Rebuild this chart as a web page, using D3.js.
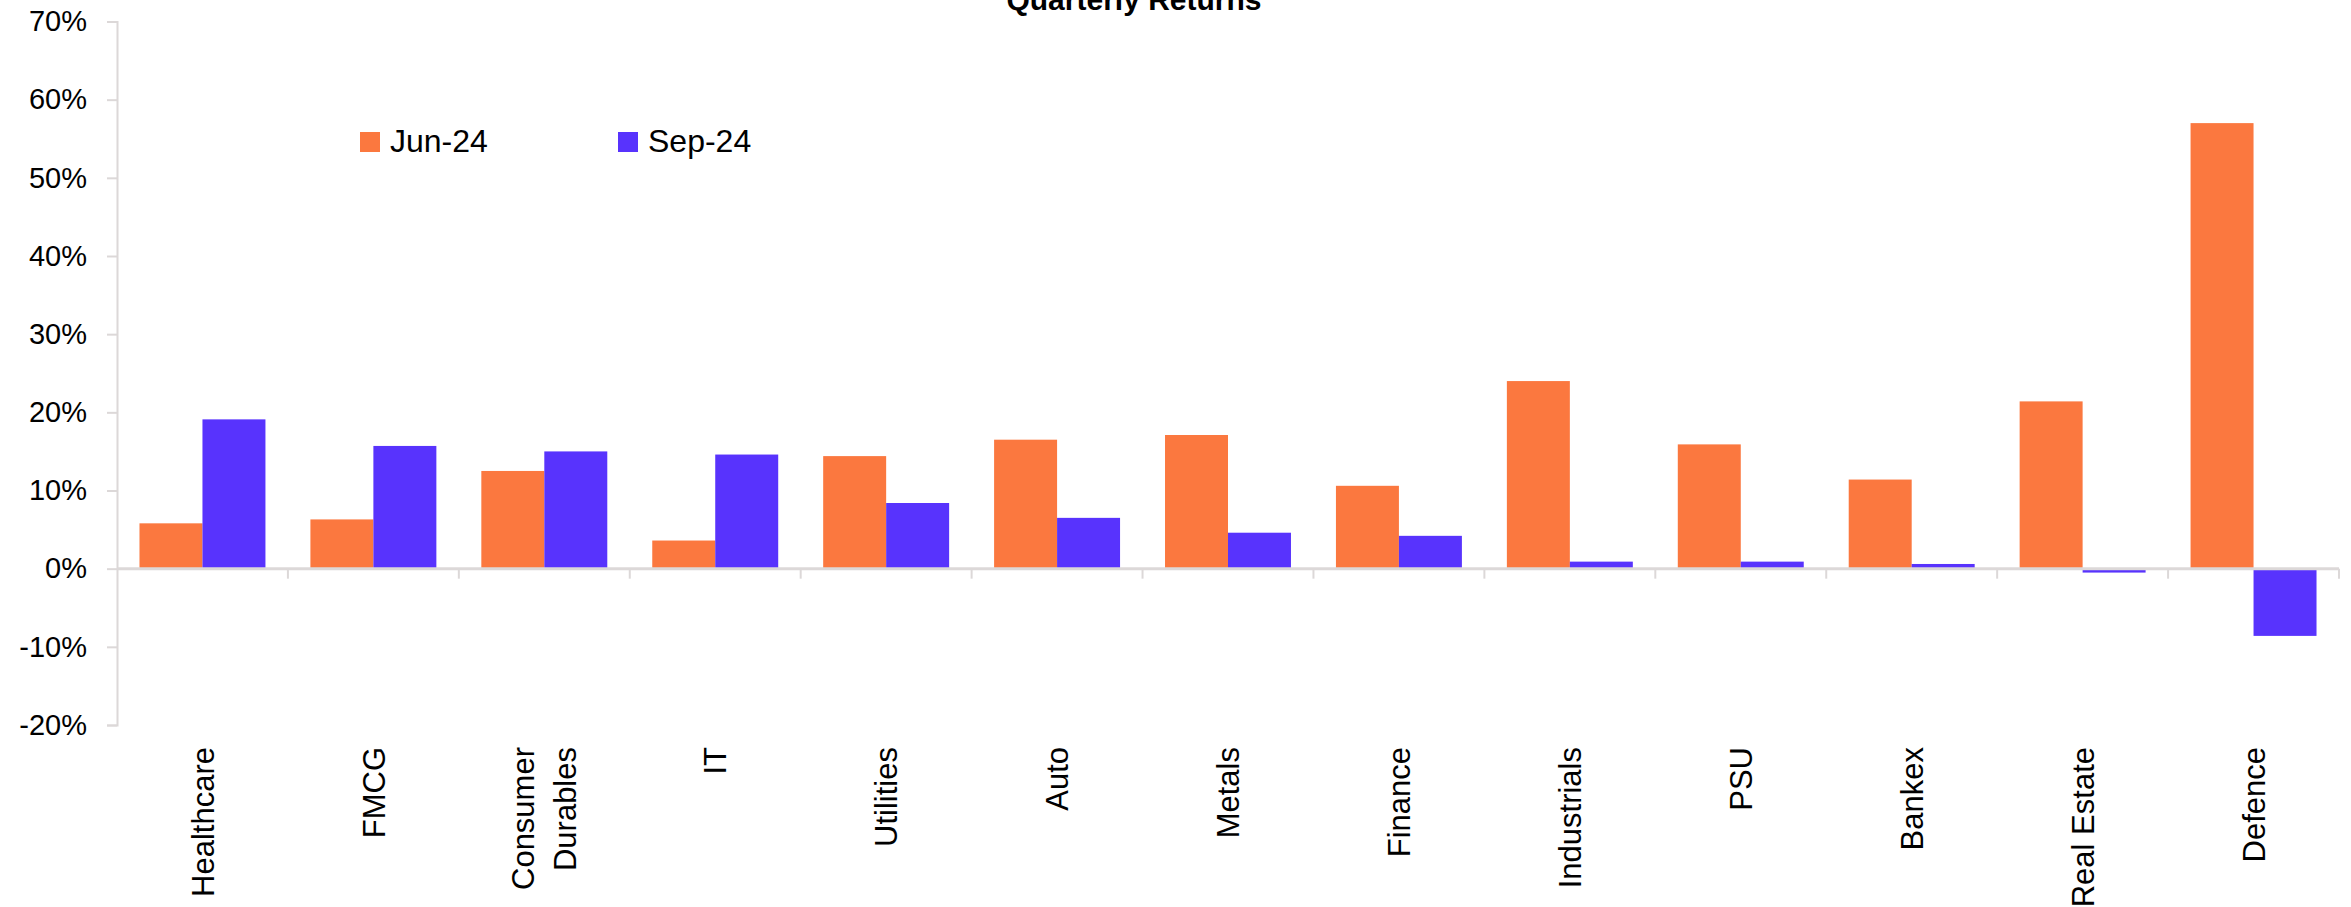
<!DOCTYPE html>
<html>
<head>
<meta charset="utf-8">
<script src="https://cdn.jsdelivr.net/npm/d3@7"></script>
<style>
  html, body { margin: 0; padding: 0; background: #ffffff; }
  svg { display: block; }
</style>
</head>
<body>
<svg id="chart" width="2351" height="907"></svg>
<script>
// Sector quarterly returns, in percent
const categories = ["Healthcare", "FMCG", "Consumer Durables", "IT", "Utilities", "Auto", "Metals",
  "Finance", "Industrials", "PSU", "Bankex", "Real Estate", "Defence"];
const seriesNames = ["Jun-24", "Sep-24"];
const jun24 = [5.8, 6.3, 12.5, 3.6, 14.4, 16.5, 17.1, 10.6, 24.0, 15.9, 11.4, 21.4, 57.0];
const sep24 = [19.1, 15.7, 15.0, 14.6, 8.4, 6.5, 4.6, 4.2, 0.9, 0.9, 0.6, -0.5, -8.6];
const yTicks = [-20, -10, 0, 10, 20, 30, 40, 50, 60, 70];
const colors = ["#FB783F", "#5833FD"];
const title = "Quarterly Returns";

const svg = d3.select("#chart");
const plot = { left: 117, right: 2339, top: 21.5, bottom: 725 };

const x = d3.scaleBand().domain(categories).range([plot.left, plot.right]).padding(0);
const inner = d3.scaleBand().domain(seriesNames).range([0, x.bandwidth()])
  .paddingInner(0).paddingOuter(0.357);
const y = d3.scaleLinear().domain([-20, 70]).range([plot.bottom, plot.top]);

const series = [jun24, sep24];
const axisColor = "#DCD8D8";
const font = "Liberation Sans, Arial, sans-serif";

// Title
svg.append("text")
  .attr("x", 1134).attr("y", 10)
  .attr("text-anchor", "middle")
  .attr("font-family", font)
  .attr("font-weight", "bold")
  .attr("font-size", 30)
  .attr("fill", "#000")
  .text(title);

// Bars
const groups = svg.append("g").selectAll("g")
  .data(categories)
  .join("g")
  .attr("transform", d => `translate(${x(d)},0)`);

groups.selectAll("rect")
  .data((d, i) => seriesNames.map((s, k) => ({ s, k, v: series[k][i] })))
  .join("rect")
  .attr("x", d => inner(d.s))
  .attr("width", inner.bandwidth())
  .attr("y", d => y(Math.max(0, d.v)))
  .attr("height", d => Math.abs(y(d.v) - y(0)))
  .attr("fill", d => colors[d.k]);

// Y axis
const yAxis = d3.axisLeft(y).tickValues(yTicks).tickSize(10).tickPadding(20)
  .tickFormat(d => d + "%");
const gy = svg.append("g").attr("transform", `translate(${plot.left},0)`).call(yAxis);
gy.select(".domain").attr("stroke", axisColor).attr("stroke-width", 2);
gy.selectAll(".tick line").attr("stroke", axisColor).attr("stroke-width", 2);
gy.selectAll(".tick text")
  .attr("font-family", font)
  .attr("font-size", 29)
  .attr("fill", "#000");

// X axis along zero line, ticks at category boundaries
const gx = svg.append("g");
gx.append("line")
  .attr("x1", plot.left).attr("x2", plot.right)
  .attr("y1", y(0)).attr("y2", y(0))
  .attr("stroke", axisColor).attr("stroke-width", 3);
const boundaries = categories.map(c => x(c) + x.bandwidth());
gx.selectAll("line.tick")
  .data(boundaries)
  .join("line")
  .attr("class", "tick")
  .attr("x1", d => d).attr("x2", d => d)
  .attr("y1", y(0)).attr("y2", y(0) + 10)
  .attr("stroke", axisColor).attr("stroke-width", 2);

// Category labels, rotated
const labelTop = 747;
const labels = svg.append("g").selectAll("text")
  .data(categories)
  .join("text")
  .attr("transform", d => `translate(${x(d) + x.bandwidth() / 2},${labelTop}) rotate(-90)`)
  .attr("text-anchor", "end")
  .attr("font-family", font)
  .attr("font-size", 31)
  .attr("fill", "#000");

labels.each(function (d) {
  const words = d === "Consumer Durables" ? ["Consumer", "Durables"] : [d];
  const t = d3.select(this);
  const lh = 42;
  words.forEach((w, i) => {
    t.append("tspan")
      .attr("x", 0)
      .attr("y", (i - (words.length - 1) / 2) * lh)
      .attr("dy", "0.36em")
      .text(w);
  });
});

// Legend
const legendItems = [
  { name: seriesNames[0], color: colors[0], x: 360 },
  { name: seriesNames[1], color: colors[1], x: 618 }
];
const lg = svg.append("g").selectAll("g")
  .data(legendItems)
  .join("g")
  .attr("transform", d => `translate(${d.x},132)`);
lg.append("rect").attr("width", 20).attr("height", 20).attr("fill", d => d.color);
lg.append("text")
  .attr("x", 30).attr("y", 20)
  .attr("font-family", font)
  .attr("font-size", 32)
  .attr("fill", "#000")
  .text(d => d.name);
</script>
</body>
</html>
